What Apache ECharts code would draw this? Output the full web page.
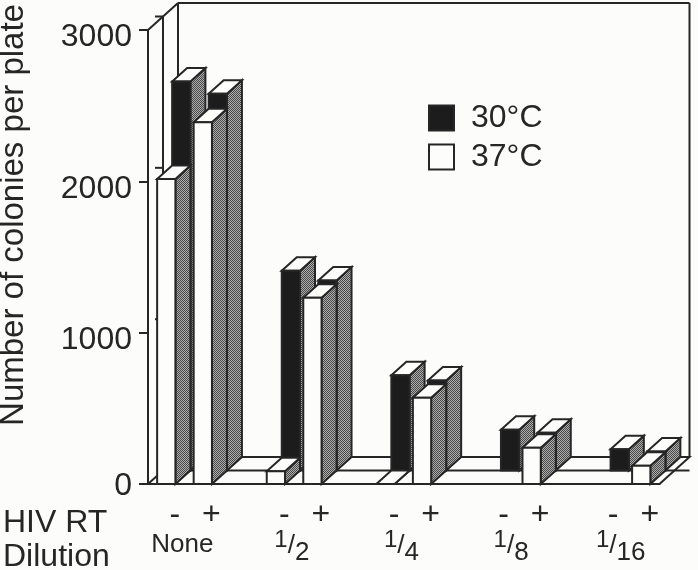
<!DOCTYPE html>
<html>
<head>
<meta charset="utf-8">
<style>html,body{margin:0;padding:0;background:#fcfcfa}#c{width:698px;height:570px}</style>
<script src="https://cdn.jsdelivr.net/npm/echarts@6/dist/echarts.min.js"></script>
</head>
<body>
<div id="c"></div>
<script>
const hivLabels   = ['-','+','','-','+','','-','+','','-','+','','-','+'];
const dilutionLabels = ['None','','','1/2','','','1/4','','','1/8','','','1/16',''];
const colonies30  = [2570,2490,null,1320,1255,null,630,595,null,270,250,null,140,125];
const colonies37  = [2015,2390,null,85,1230,null,0,570,null,null,240,null,null,120];
const yTicks = [0,1000,2000,3000];
const INK = '#262626', FONT = '"Liberation Sans", Arial, sans-serif';
const DX = 15, DY = -13.5;

function hatch(){
  const c = document.createElement('canvas'); c.width = 2; c.height = 2;
  const g = c.getContext('2d');
  g.fillStyle = '#aeaeae'; g.fillRect(0,0,2,2);
  g.fillStyle = '#484848'; g.fillRect(0,0,1,1); g.fillRect(1,1,1,1);
  return {image:c, repeat:'repeat'};
}
const HATCH = hatch();

function barItem(row, faceColor){
  return function(params, api){
    const cat = api.value(0), val = api.value(1);
    const base = api.coord([cat,0]), top = api.coord([cat,val]);
    const w = api.size([1,0])[0]*0.5;
    const ox = DX*row, oy = DY*row;
    const xl = base[0]-w/2+ox, xr = xl+w, yb = base[1]+oy, yt = top[1]+oy;
    const st = {stroke:INK, lineWidth:2, lineJoin:'miter'};
    const children = [
      {type:'polygon', shape:{points:[[xr,yb],[xr+DX,yb+DY],[xr+DX,yt+DY],[xr,yt]]}, style:{fill:HATCH,...st}},
      {type:'polygon', shape:{points:[[xl,yt],[xr,yt],[xr+DX,yt+DY],[xl+DX,yt+DY]]}, style:{fill:'#fdfdfb',...st}},
      {type:'rect', shape:{x:xl,y:yt,width:w,height:yb-yt}, style:{fill:faceColor,...st}}
    ];
    return {type:'group', children};
  };
}

function frameItem(params, api){
  const w = api.size([1,0])[0];
  const x0 = api.coord([0,0])[0]-w/2, x1 = api.coord([13,0])[0]+w/2;
  const y0 = api.coord([0,0])[1], yT = api.coord([0,3000])[1];
  const st = {stroke:INK, lineWidth:2, fill:'none'};
  const line = (a,b,c,d)=>({type:'line', shape:{x1:a,y1:b,x2:c,y2:d}, style:st});
  const ch = [
    {type:'polygon', shape:{points:[[x0,y0],[x1,y0],[x1+2*DX,y0+2*DY],[x0+2*DX,y0+2*DY]]}, style:{fill:'#fdfdfb',...st}},
    line(x0,yT,x0+2*DX,yT+2*DY),
    line(x0+2*DX,yT+2*DY,x1+2*DX,yT+2*DY),
    line(x1+2*DX,yT+2*DY,x1+2*DX,y0+2*DY),
    line(x0+2*DX,yT+2*DY,x0+2*DX,y0+2*DY),
    line(x0+DX,yT+DY,x0+DX,y0+DY),
    line(x0+DX,y0+DY,x1+DX,y0+DY),
    line(x1+DX,y0+DY,x1+2*DX,y0+DY)
  ];
  yTicks.forEach(t=>{ if(t>0){ const y=api.coord([0,t])[1]+DY; ch.push(line(x0+DX-8,y,x0+DX,y)); } });
  return {type:'group', children:ch};
}

function fraction(v){
  if(!v) return '';
  if(v.indexOf('/')<0) return '{m|'+v+'}';
  const p = v.split('/');
  return '{n|'+p[0]+'}{s|/}{d|'+p[1]+'}';
}

const chart = echarts.init(document.getElementById('c'), null, {renderer:'canvas'});
chart.setOption({
  animation:false,
  backgroundColor:'#fcfcfa',
  grid:{left:148, right:38.5, top:30, bottom:86, containLabel:false, outerBoundsMode:'none'},
  legend:{
    orient:'vertical', left:428, top:102, padding:0, itemWidth:25, itemHeight:25, itemGap:7,
    icon:'rect', data:['30°C','37°C'], selectedMode:false,
    textStyle:{fontFamily:FONT, fontSize:32, color:INK, padding:[0,0,0,12]}
  },
  xAxis:[
    {type:'category', data:hivLabels, position:'bottom', boundaryGap:true,
     axisLine:{lineStyle:{color:INK,width:2}}, axisTick:{show:false},
     axisLabel:{interval:0, margin:15, padding:[0,0,0,17], color:INK, fontFamily:FONT, fontSize:32}},
    {type:'category', data:dilutionLabels, position:'bottom', boundaryGap:true,
     axisLine:{show:false}, axisTick:{show:false},
     axisLabel:{interval:0, margin:42, padding:[0,0,0,32], color:INK, fontFamily:FONT,
       formatter:fraction,
       rich:{
         m:{fontSize:26, fontFamily:FONT, color:INK, padding:[6,0,0,0]},
         n:{fontSize:24, fontFamily:FONT, color:INK, padding:[0,0,12,0]},
         s:{fontSize:26, fontFamily:FONT, color:INK},
         d:{fontSize:26, fontFamily:FONT, color:INK, padding:[14,0,0,0]}
       }}}
  ],
  yAxis:{type:'value', min:0, max:3000, interval:1000,
    name:'Number of colonies per plate', nameLocation:'middle', nameGap:118, nameRotate:90,
    nameTextStyle:{fontFamily:FONT, fontSize:33, color:INK, padding:[0,0,0,84]},
    axisLine:{show:true, lineStyle:{color:INK,width:2}},
    axisTick:{show:true, length:9, lineStyle:{color:INK,width:2}},
    axisLabel:{margin:16, fontFamily:FONT, fontSize:32, color:INK, padding:[15,0,0,0],
      formatter:v=>v===0?'{z|0}':String(v),
      rich:{z:{fontFamily:FONT, fontSize:32, color:INK, padding:[0,0,11,0]}}},
    splitLine:{show:false}},
  graphic:[
    {type:'text', left:3, top:507, style:{text:'HIV RT', fontFamily:FONT, fontSize:32, fill:INK}},
    {type:'text', left:3, top:541, style:{text:'Dilution', fontFamily:FONT, fontSize:32, fill:INK}}
  ],
  series:[
    {name:'frame', type:'custom', renderItem:frameItem, data:[[0,0]], silent:true, clip:false, z:1},
    {name:'30°C', type:'custom', renderItem:barItem(1,'#1c1c1c'), clip:false, z:2,
     itemStyle:{color:'#1c1c1c', borderColor:INK, borderWidth:2},
     data:colonies30.map((v,i)=>[i,v]).filter(d=>d[1]!==null)},
    {name:'37°C', type:'custom', renderItem:barItem(0,'#fdfdfb'), clip:false, z:3,
     itemStyle:{color:'#fdfdfb', borderColor:INK, borderWidth:2},
     data:colonies37.map((v,i)=>[i,v]).filter(d=>d[1]!==null)}
  ]
});
</script>
</body>
</html>
